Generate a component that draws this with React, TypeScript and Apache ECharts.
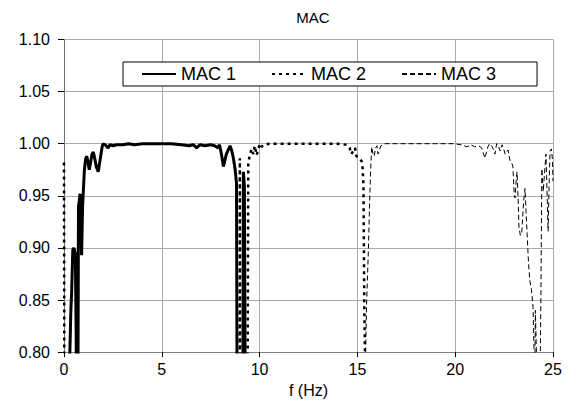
import React, { useEffect, useRef } from "react";
import * as echarts from "echarts";

const TITLE = "MAC";
const X_NAME = "f (Hz)";
const SERIES_NAMES = ["MAC 1", "MAC 2", "MAC 3"];

const MAC1_F = [0.0, 0.24, 0.3, 0.35, 0.39, 0.45, 0.5, 0.58, 0.62, 0.66, 0.71, 0.74, 0.78, 0.82, 0.86, 0.9, 0.95, 1.04, 1.1, 1.16, 1.22, 1.29, 1.36, 1.43, 1.5, 1.57, 1.65, 1.75, 1.85, 1.95, 2.0, 2.1, 2.25, 2.35, 2.5, 2.7, 3.0, 3.3, 3.6, 4.0, 4.5, 5.0, 5.5, 6.0, 6.4, 6.6, 6.78, 6.95, 7.2, 7.5, 7.7, 7.87, 7.95, 8.05, 8.15, 8.3, 8.49, 8.58, 8.66, 8.75, 8.82, 8.85, 8.9, 9.1, 9.15, 9.17, 9.22, 9.27, 9.3];
const MAC1_V = [0.5, 0.6, 0.8, 0.84, 0.857, 0.898, 0.9, 0.895, 0.82, 0.7, 0.75, 0.94, 0.945, 0.952, 0.93, 0.893, 0.94, 0.974, 0.985, 0.988, 0.983, 0.975, 0.982, 0.99, 0.992, 0.986, 0.978, 0.973, 0.985, 0.997, 1.0, 0.999, 0.996, 0.999, 0.998, 0.999, 0.999, 1.0, 0.999, 1.0, 1.0, 1.0, 1.0, 0.999, 0.998, 0.999, 0.996, 0.999, 0.998, 0.999, 0.998, 0.996, 0.999, 0.99, 0.978, 0.99, 0.998, 0.993, 0.986, 0.975, 0.962, 0.75, 0.6, 0.6, 0.8, 0.973, 0.96, 0.75, 0.6];

const MAC2_F = [0.0, 0.03, 8.97, 8.99, 9.02, 9.36, 9.42, 9.5, 9.6, 9.68, 9.75, 9.85, 9.93, 10.02, 10.1, 10.2, 10.5, 11.5, 12.5, 13.5, 14.0, 14.45, 14.6, 14.7, 14.78, 14.88, 14.95, 15.05, 15.15, 15.22, 15.27, 15.31, 15.35, 15.42, 15.45];
const MAC2_V = [0.982, 0.6, 0.6, 0.986, 0.6, 0.6, 0.98, 0.99, 0.995, 0.99, 0.998, 0.989, 0.995, 1.0, 0.997, 0.999, 1.0, 1.0, 1.0, 1.0, 1.0, 0.999, 0.996, 0.99, 0.993, 0.996, 0.988, 0.987, 0.985, 0.983, 0.976, 0.96, 0.85, 0.75, 0.6];

const MAC3_F = [15.38, 15.42, 15.47, 15.56, 15.64, 15.68, 15.73, 15.8, 15.86, 15.93, 16.0, 16.05, 16.1, 16.2, 16.4, 17.0, 18.0, 19.0, 19.9, 20.3, 20.6, 20.8, 21.0, 21.2, 21.35, 21.52, 21.65, 21.75, 21.9, 22.03, 22.12, 22.2, 22.3, 22.4, 22.48, 22.55, 22.7, 22.8, 22.9, 22.95, 23.02, 23.06, 23.12, 23.16, 23.22, 23.26, 23.33, 23.4, 23.5, 23.57, 23.62, 23.67, 23.75, 23.82, 23.9, 23.98, 24.03, 24.07, 24.1, 24.15, 24.22, 24.3, 24.38, 24.43, 24.5, 24.56, 24.64, 24.7, 24.75, 24.8, 24.85, 24.92, 24.97, 25.0];
const MAC3_V = [0.6, 0.8, 0.846, 0.897, 0.954, 0.976, 0.997, 0.99, 0.988, 0.996, 0.998, 0.99, 0.992, 0.998, 1.0, 1.0, 1.0, 1.0, 1.0, 0.999, 0.997, 0.999, 0.997, 0.998, 0.996, 0.986, 0.996, 1.0, 0.997, 0.99, 1.0, 0.998, 0.993, 0.999, 0.995, 0.99, 0.994, 0.984, 0.981, 0.978, 0.95, 0.948, 0.965, 0.973, 0.945, 0.92, 0.912, 0.914, 0.945, 0.957, 0.935, 0.916, 0.885, 0.868, 0.86, 0.843, 0.8, 0.78, 0.84, 0.8, 0.7, 0.7, 0.85, 0.976, 0.954, 0.97, 0.99, 0.95, 0.916, 0.96, 0.993, 0.995, 0.985, 0.964];

const zip = (f: number[], v: number[]) => f.map((x, i) => [x, v[i]]);

export default function App() {
  const ref = useRef<HTMLDivElement>(null);
  useEffect(() => {
    if (!ref.current) return;
    const chart = echarts.init(ref.current, null, { renderer: "svg" });
    const font = "Liberation Sans, Arial, sans-serif";
    chart.setOption({
      animation: false,
      backgroundColor: "#ffffff",
      title: {
        text: TITLE,
        left: 308,
        textAlign: "center",
        top: 5,
        textStyle: { fontFamily: font, fontSize: 15, fontWeight: "normal", color: "#000" },
      },
      legend: {
        left: 123,
        top: 62,
        backgroundColor: "#ffffff",
        borderColor: "#000000",
        borderWidth: 1,
        borderRadius: 0,
        padding: [3, 41, 3, 18],
        itemGap: 35,
        itemWidth: 34,
        itemHeight: 18,
        itemStyle: { color: "rgba(0,0,0,0)", borderColor: "rgba(0,0,0,0)", borderWidth: 0 },
        textStyle: { fontFamily: font, fontSize: 18, color: "#000" },
        data: SERIES_NAMES,
      },
      grid: { left: 64, right: 23, top: 39.5, bottom: 46.5, containLabel: false },
      xAxis: {
        type: "value",
        min: 0,
        max: 25,
        interval: 5,
        name: X_NAME,
        nameLocation: "middle",
        nameGap: 26,
        nameTextStyle: { fontFamily: font, fontSize: 16, color: "#000" },
        axisLine: { show: true, lineStyle: { color: "#808080", width: 1 } },
        axisTick: { show: true, inside: false, length: 5, lineStyle: { color: "#000" } },
        axisLabel: { fontFamily: font, fontSize: 16, color: "#000", margin: 9 },
        splitLine: { show: true, lineStyle: { color: "#aaaaaa", width: 1 } },
      },
      yAxis: {
        type: "value",
        min: 0.8,
        max: 1.1,
        interval: 0.05,
        axisLine: { show: true, lineStyle: { color: "#707070", width: 1 } },
        axisTick: { show: true, inside: false, length: 6, lineStyle: { color: "#000" } },
        axisLabel: {
          fontFamily: font,
          fontSize: 16,
          color: "#000",
          margin: 14,
          formatter: (v: number) => v.toFixed(2),
        },
        splitLine: { show: true, lineStyle: { color: "#aaaaaa", width: 1 } },
      },
      series: [
        {
          name: SERIES_NAMES[0],
          type: "line",
          data: zip(MAC1_F, MAC1_V),
          symbol: "none",
          clip: true,
          lineStyle: { color: "#000", width: 3, type: "solid" },
          itemStyle: { color: "#000" },
          z: 3,
        },
        {
          name: SERIES_NAMES[1],
          type: "line",
          data: zip(MAC2_F, MAC2_V),
          symbol: "none",
          clip: true,
          lineStyle: { color: "#000", width: 2.5, type: [3, 4] },
          itemStyle: { color: "#000" },
          z: 4,
        },
        {
          name: SERIES_NAMES[2],
          type: "line",
          data: zip(MAC3_F, MAC3_V),
          symbol: "none",
          clip: true,
          lineStyle: { color: "#000", width: 1, type: [5, 3] },
          itemStyle: { color: "#000" },
          z: 5,
        },
      ],
    });
    return () => chart.dispose();
  }, []);
  return (
    <div
      ref={ref}
      style={{ position: "fixed", left: 0, top: 0, width: 576, height: 403 }}
    />
  );
}
